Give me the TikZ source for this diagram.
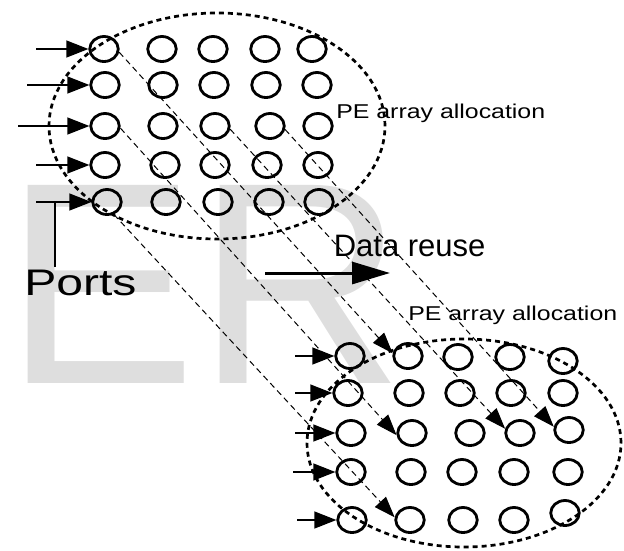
\documentclass[tikz,border=0pt]{standalone}
\usepackage{fontspec}
\setmainfont{Liberation Sans}
\usetikzlibrary{arrows.meta,shapes.geometric}
\definecolor{wm}{RGB}{222,222,222}
\begin{document}
\begin{tikzpicture}[x=1pt,y=-1pt,
  pe/.style={ellipse,draw,line width=2.8pt,minimum width=28.5pt,minimum height=25pt,inner sep=0pt},
  grp/.style={ellipse,draw,line width=2.7pt,dash pattern=on 5pt off 4pt,inner sep=0pt},
  inarrow/.style={line width=1.3pt,-{Triangle[length=22pt,width=17pt]}},
  reuse/.style={line width=1pt,dash pattern=on 6pt off 4pt,-{Triangle[length=21pt,width=15pt]}},
  lbl/.style={anchor=base west,inner sep=0pt},
  pelbl/.style={lbl,font=\fontsize{20}{24}\selectfont,xscale=1.245},
]
\useasboundingbox (0,0) rectangle (624,550);
% watermark
\node[lbl,text=wm,font=\fontsize{288}{288}\selectfont] (wmk) at (4,383) {ER};
% group ellipses
\node[grp,minimum width=336pt,minimum height=226pt] (g1) at (217,126) {};
\node[grp,minimum width=314pt,minimum height=208pt] (g2) at (464,443) {};
% top PE array
\node[pe] (t11) at (104,49) {}; \node[pe] (t12) at (162,49) {}; \node[pe] (t13) at (213,49) {}; \node[pe] (t14) at (265,49) {}; \node[pe] (t15) at (312,49) {};
\node[pe] (t21) at (105,85) {}; \node[pe] (t22) at (163,85) {}; \node[pe] (t23) at (214,85) {}; \node[pe] (t24) at (266,85) {}; \node[pe] (t25) at (317,85) {};
\node[pe] (t31) at (105,126) {}; \node[pe] (t32) at (163,126) {}; \node[pe] (t33) at (215,126) {}; \node[pe] (t34) at (270,126) {}; \node[pe] (t35) at (318,126) {};
\node[pe] (t41) at (105,165) {}; \node[pe] (t42) at (165,165) {}; \node[pe] (t43) at (215,165) {}; \node[pe] (t44) at (267,165) {}; \node[pe] (t45) at (318,165) {};
\node[pe] (t51) at (107,202) {}; \node[pe] (t52) at (166,202) {}; \node[pe] (t53) at (218,202) {}; \node[pe] (t54) at (269,202) {}; \node[pe] (t55) at (319,202) {};
% bottom PE array
\node[pe] (b11) at (350,356) {}; \node[pe] (b12) at (408,356) {}; \node[pe] (b13) at (458,357) {}; \node[pe] (b14) at (510,357) {}; \node[pe] (b15) at (563,361) {};
\node[pe] (b21) at (348,393) {}; \node[pe] (b22) at (409,393) {}; \node[pe] (b23) at (460,393) {}; \node[pe] (b24) at (511,393) {}; \node[pe] (b25) at (563,393) {};
\node[pe] (b31) at (351,433) {}; \node[pe] (b32) at (412,433) {}; \node[pe] (b33) at (470,433) {}; \node[pe] (b34) at (520,433) {}; \node[pe] (b35) at (569,430) {};
\node[pe] (b41) at (351,472) {}; \node[pe] (b42) at (411,472) {}; \node[pe] (b43) at (462,472) {}; \node[pe] (b44) at (514,472) {}; \node[pe] (b45) at (568,472) {};
\node[pe] (b51) at (352,520) {}; \node[pe] (b52) at (410,520) {}; \node[pe] (b53) at (463,520) {}; \node[pe] (b54) at (514,520) {}; \node[pe] (b55) at (565,513) {};
% port inputs, top
\coordinate (p1) at (36,49); \coordinate (p2) at (27,85); \coordinate (p3) at (18,126); \coordinate (p4) at (36,165); \coordinate (p5) at (36,202);
\draw[inarrow] (p1) -- (t11);
\draw[inarrow] (p2) -- (t21);
\draw[inarrow] (p3) -- (t31);
\draw[inarrow] (p4) -- (t41);
\draw[inarrow] (p5) -- (t51);
% port inputs, bottom
\coordinate (q1) at (295,356); \coordinate (q2) at (295,393); \coordinate (q3) at (295,433); \coordinate (q4) at (293,472); \coordinate (q5) at (297,520);
\draw[inarrow] (q1) -- (b11);
\draw[inarrow] (q2) -- (b21);
\draw[inarrow] (q3) -- (b31);
\draw[inarrow] (q4) -- (b41);
\draw[inarrow] (q5) -- (b51);
% ports label
\coordinate (v1) at (55,201); \coordinate (v2) at (55,267);
\draw[line width=2.6pt] (v1) -- (v2);
\node[lbl,font=\fontsize{37}{44}\selectfont,xscale=1.3] (ports) at (24,295) {Ports};
% labels
\node[pelbl] (pe1) at (336,118.3) {PE array allocation};
\node[pelbl] (pe2) at (408,320) {PE array allocation};
\node[lbl,font=\fontsize{31}{36}\selectfont] (dr) at (333.6,256.7) {Data reuse};
\coordinate (d1) at (265,273); \coordinate (d2) at (390,273);
\draw[line width=3pt,-{Triangle[length=38pt,width=22pt]}] (d1) -- (d2);
% data reuse lines
\draw[reuse] (t11.-12) -- (b12.170);
\draw[reuse] (t31.-8) -- (b32.188);
\draw[reuse] (t51.-61) -- (b52.170);
\draw[reuse] (t33.-12) -- (b34.164);
\draw[reuse] (t34.-13) -- (b35.168);
\end{tikzpicture}
\end{document}
